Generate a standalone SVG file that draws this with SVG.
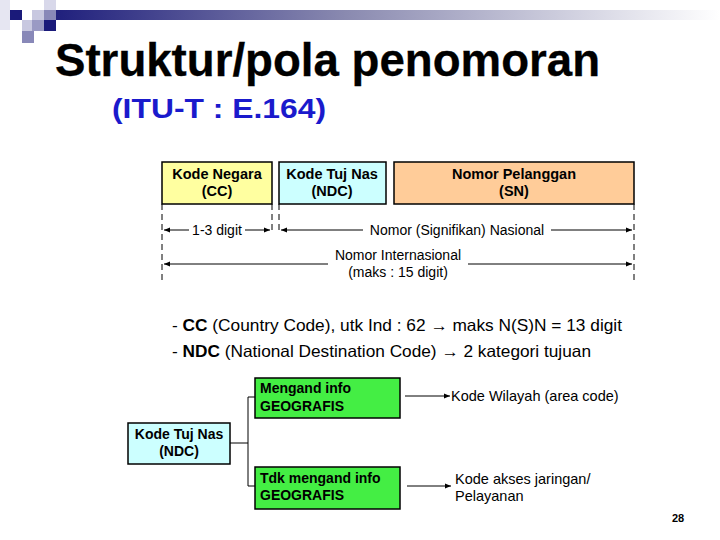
<svg xmlns="http://www.w3.org/2000/svg" width="720" height="540" viewBox="0 0 720 540">
<defs>
<linearGradient id="bar" x1="0" x2="1" y1="0" y2="0"><stop offset="0" stop-color="#1a1a7a"/><stop offset="0.45" stop-color="#8a8ab0"/><stop offset="1" stop-color="#ffffff"/></linearGradient>
<marker id="ah" viewBox="0 0 10 10" refX="10" refY="5" markerWidth="8" markerHeight="6" orient="auto-start-reverse"><path d="M0,1 L10,5 L0,9 z" fill="#000"/></marker>
<style>
.t{font-family:"Liberation Sans",Arial,sans-serif;fill:#000}
.b{font-weight:bold}
.box{stroke:#000;stroke-width:1.5}
.ln{stroke:#000;stroke-width:1;fill:none}
.ds{stroke:#000;stroke-width:1;stroke-dasharray:6,4}
</style>
</defs>
<rect width="720" height="540" fill="#fff"/>
<g id="decor">
<rect x="40" y="10" width="680" height="10" fill="url(#bar)"/>
<rect x="10" y="10" width="12" height="10" fill="#1a1a7a"/>
<rect x="32" y="10" width="12" height="10" fill="#c8c8e0"/>
<rect x="44" y="10" width="12" height="10" fill="#8888b8"/>
<rect x="44" y="20" width="12" height="11" fill="#1a1a7a"/>
<rect x="22" y="20" width="10" height="11" fill="#c8c8e0"/>
<rect x="32" y="20" width="12" height="11" fill="#9a9ac4"/>
<rect x="22" y="31" width="12" height="12" fill="#8888b8"/>
<rect x="0" y="0" width="10" height="30" fill="#e6e6f2"/>
<rect x="44" y="0" width="12" height="10" fill="#d8d8ea"/>
</g>
<text class="t b" x="55" y="76" font-size="46" textLength="545" lengthAdjust="spacingAndGlyphs" stroke="#000" stroke-width="0.3">Struktur/pola penomoran</text>
<text class="t b" x="112" y="118" font-size="28" textLength="214" lengthAdjust="spacingAndGlyphs" style="fill:#1a1acc">(ITU-T : E.164)</text>
<g id="cc"><rect class="box" x="162" y="162" width="110" height="42" fill="#ffffa0"/>
<text class="t b" x="217" y="179" font-size="14.5" text-anchor="middle">Kode Negara</text><text class="t b" x="217" y="196" font-size="14.5" text-anchor="middle">(CC)</text></g>
<g id="ndc"><rect class="box" x="279" y="162" width="107" height="42" fill="#ccffff"/>
<text class="t b" x="332" y="179" font-size="14.5" text-anchor="middle">Kode Tuj Nas</text><text class="t b" x="332" y="196" font-size="14.5" text-anchor="middle">(NDC)</text></g>
<g id="sn"><rect class="box" x="394" y="162" width="240" height="42" fill="#ffcc99"/>
<text class="t b" x="514" y="179" font-size="14.5" text-anchor="middle">Nomor Pelanggan</text><text class="t b" x="514" y="196" font-size="14.5" text-anchor="middle">(SN)</text></g>
<g id="connectors">
<line class="ds" x1="162" y1="204" x2="162" y2="282"/>
<line class="ds" x1="272" y1="204" x2="272" y2="234"/>
<line class="ds" x1="279" y1="204" x2="279" y2="234"/>
<line class="ds" x1="634" y1="204" x2="634" y2="282"/>
<line class="ln" x1="164" y1="230" x2="189" y2="230" marker-start="url(#ah)"/>
<line class="ln" x1="245" y1="230" x2="270" y2="230" marker-end="url(#ah)"/>
<line class="ln" x1="281" y1="230" x2="363" y2="230" marker-start="url(#ah)"/>
<line class="ln" x1="551" y1="230" x2="632" y2="230" marker-end="url(#ah)"/>
<line class="ln" x1="164" y1="264" x2="328" y2="264" marker-start="url(#ah)"/>
<line class="ln" x1="468" y1="264" x2="632" y2="264" marker-end="url(#ah)"/>
<path class="ln" d="M230,443 H248 M248,397 V486 M248,397 H255 M248,486 H255"/>
<line class="ln" x1="405" y1="396" x2="450" y2="396" marker-end="url(#ah)"/>
<line class="ln" x1="407" y1="486" x2="451" y2="486" marker-end="url(#ah)"/>
</g>
<text class="t" x="217" y="235" font-size="14" text-anchor="middle">1-3 digit</text>
<text class="t" x="457" y="235" font-size="14" text-anchor="middle">Nomor (Signifikan) Nasional</text>
<text class="t" x="398" y="260" font-size="14" text-anchor="middle">Nomor Internasional</text>
<text class="t" x="398" y="277" font-size="14" text-anchor="middle">(maks : 15 digit)</text>
<text class="t" x="172" y="331" font-size="16.5" textLength="450" lengthAdjust="spacingAndGlyphs">- <tspan class="b">CC</tspan> (Country Code), utk Ind : 62 → maks N(S)N = 13 digit</text>
<text class="t" x="172" y="357" font-size="16.5" textLength="419" lengthAdjust="spacingAndGlyphs">- <tspan class="b">NDC</tspan> (National Destination Code) → 2 kategori tujuan</text>
<g id="ndc2"><rect class="box" x="128" y="423" width="102" height="41" fill="#ccffff"/>
<text class="t b" x="179" y="439" font-size="14" text-anchor="middle">Kode Tuj Nas</text><text class="t b" x="179" y="456" font-size="14" text-anchor="middle">(NDC)</text></g>
<g id="geo1"><rect class="box" x="255" y="378" width="145" height="40" fill="#44ee44"/>
<text class="t b" x="260" y="393" font-size="14">Mengand info</text><text class="t b" x="260" y="411" font-size="14">GEOGRAFIS</text></g>
<g id="geo2"><rect class="box" x="255" y="467" width="145" height="42" fill="#44ee44"/>
<text class="t b" x="260" y="483" font-size="14">Tdk mengand info</text><text class="t b" x="260" y="500" font-size="14">GEOGRAFIS</text></g>
<text class="t" x="451" y="401" font-size="14.5">Kode Wilayah (area code)</text>
<text class="t" x="455" y="484" font-size="14.5">Kode akses jaringan/</text>
<text class="t" x="455" y="501" font-size="14.5">Pelayanan</text>
<text class="t b" x="672" y="522" font-size="11">28</text>
</svg>
